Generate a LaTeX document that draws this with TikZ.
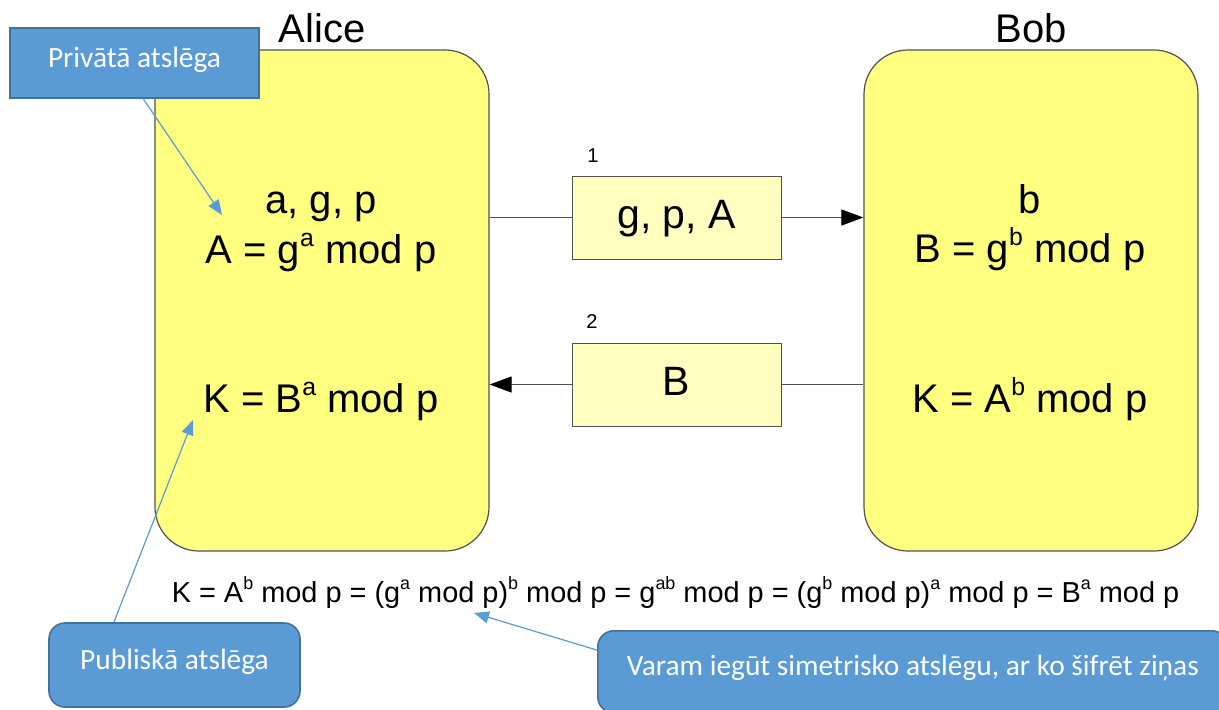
\documentclass[tikz,border=0pt]{standalone}
\usepackage{fontspec}
\setmainfont{Liberation Sans}
\newfontfamily\callfont{Carlito}
\usetikzlibrary{arrows.meta,calc}
\newcommand\expo[1]{\raisebox{0.42em}{\scalebox{0.62}{#1}}}
\definecolor{partyfill}{RGB}{255,255,128}
\definecolor{msgfill}{RGB}{255,255,192}
\definecolor{edgegray}{RGB}{80,80,80}
\definecolor{callblue}{RGB}{91,155,213}
\definecolor{calledge}{RGB}{65,113,156}
\tikzset{
  partybox/.style={draw=edgegray, fill=partyfill, line width=0.6pt, rounded corners=22pt,
    minimum width=167pt, minimum height=250.5pt, inner sep=0pt},
  msgbox/.style={draw=edgegray, fill=msgfill, line width=0.5pt,
    minimum width=104.5pt, minimum height=41.5pt, inner sep=0pt,
    text height=11pt, text depth=-0.5pt,
    font=\fontsize{20.5pt}{22pt}\selectfont},
  partyname/.style={anchor=base, font=\fontsize{20pt}{22pt}\selectfont},
  boxtext/.style={anchor=base, font=\fontsize{20pt}{22pt}\selectfont},
  numtext/.style={anchor=base, font=\fontsize{10pt}{12pt}\selectfont},
  eqtext/.style={anchor=base, font=\fontsize{14.45pt}{16pt}\selectfont},
  callout/.style={draw=calledge, fill=callblue, line width=0.8pt, text=white,
    inner sep=0pt, text height=7pt, text depth=3pt,
    font=\callfont\fontsize{14.7pt}{16pt}\selectfont},
  flow/.style={draw=edgegray, line width=0.5pt, -{Triangle[length=11pt,width=8pt,color=black,fill=black]}},
  flowplain/.style={draw=edgegray, line width=0.5pt},
  callarrow/.style={draw=callblue, line width=0.6pt, -{Triangle[length=7.5pt,width=6pt]}}
}
\begin{document}
\begin{tikzpicture}[x=0.5pt,y=-0.5pt]
\useasboundingbox (0,0) rectangle (1219,709);
\clip (0,0) rectangle (1219,709);
\fill[white] (0,0) rectangle (1219,709);

% party boxes
\node[partybox] (alice) at (322,300.5) {};
\node[partybox] (bob) at (1031,300.5) {};
\node[partyname] (alicename) at (322,42) {Alice};
\node[partyname] (bobname) at (1031,42) {Bob};

% Alice text
\node[boxtext] (ainit) at (321,213) {a, g, p};
\node[boxtext] (acalc) at (321,263) {A = g\expo{a} mod p};
\node[boxtext] (akey) at (321,412) {K = B\expo{a} mod p};

% Bob text
\node[boxtext] (binit) at (1030,213) {b};
\node[boxtext] (bcalc) at (1030,262) {B = g\expo{b} mod p};
\node[boxtext] (bkey) at (1030,412) {K = A\expo{b} mod p};

% messages
\node[msgbox] (msg1) at (676.5,217.5) {g, p, A};
\node[msgbox] (msg2) at (676.5,384.5) {B};
\node[numtext] (n1) at (593,162) {1};
\node[numtext] (n2) at (592,328) {2};

\draw[flowplain] (msg1.west -| alice.east) -- (msg1.west);
\draw[flow] (msg1.east) -- (msg1.east -| bob.west);
\draw[flowplain] (msg2.east) -- (msg2.east -| bob.west);
\draw[flow] (msg2.west) -- (msg2.west -| alice.east);

% equation
\node[eqtext] (eq) at (675.5,602) {K = A\expo{b} mod p = (g\expo{a} mod p)\expo{b} mod p = g\expo{ab} mod p = (g\expo{b} mod p)\expo{a} mod p = B\expo{a} mod p};

% callouts
\node[callout, minimum width=124.5pt, minimum height=35pt] (priv) at (134.5,63) {Privātā atslēga};
\node[callout, rounded corners=8pt, minimum width=125.5pt, minimum height=42pt] (pub) at (174.5,665) {Publiskā atslēga};
\node[callout, rounded corners=8pt, minimum width=315pt, minimum height=41pt, anchor=north west] (sym) at (597,630) {Varam iegūt simetrisko atslēgu, ar ko šifrēt ziņas};

\coordinate (privtip) at (222,215);
\coordinate (pubtip) at (193,420);
\coordinate (symtip) at (474,613);
\draw[callarrow] ($(priv.south west)!0.535!(priv.south east)$) -- (privtip);
\draw[callarrow] ($(pub.north west)!0.26!(pub.north east)$) -- (pubtip);
\draw[callarrow] ($(sym.north west)!0.24!(sym.south west)$) -- (symtip);
\end{tikzpicture}
\end{document}
